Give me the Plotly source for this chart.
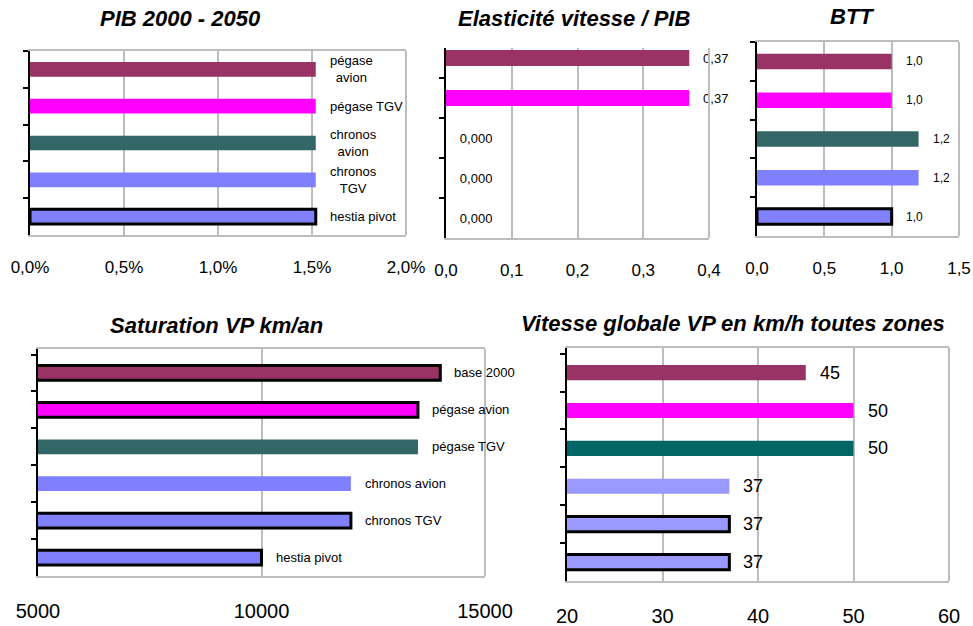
import plotly.graph_objects as go

W, H = 973, 626
FONT = "Liberation Sans, Arial, sans-serif"
GRID = "#bdbdbd"
PLUM = "#993366"
PINK = "#ff00ff"
SLATE = "#336666"
TEAL = "#006666"
LAV = "#8080ff"
LAV2 = "#9999ff"
NBSP = "\u00a0"

# --- data ---------------------------------------------------------------
SCEN5 = ["pégase avion", "pégase TGV", "chronos avion", "chronos TGV", "hestia pivot"]
SCEN5_LABELS = ["pégase<br>avion", "pégase TGV", "chronos<br>avion", "chronos<br>TGV", "hestia pivot"]
PIB = [0.0152, 0.0152, 0.0152, 0.0152, 0.0152]
ELASTICITE = [0.370, 0.370, 0.0, 0.0, 0.0]
BTT = [1.0, 1.0, 1.2, 1.2, 1.0]

SCEN6 = ["base 2000", "pégase avion", "pégase TGV", "chronos avion", "chronos TGV", "hestia pivot"]
SATURATION = [14000, 13500, 13500, 12000, 12000, 10000]
VITESSE = [45, 50, 50, 37, 37, 37]

COLORS5 = [PLUM, PINK, SLATE, LAV, LAV]
BORDER5 = [0, 0, 0, 0, 3]
COLORS_SAT = [PLUM, PINK, SLATE, LAV, LAV, LAV]
BORDER_SAT = [3, 3, 0, 0, 3, 3]
COLORS_VIT = [PLUM, PINK, TEAL, LAV2, LAV2, LAV2]
BORDER_VIT = [0, 0, 0, 0, 3, 3]


def px_x(v):
    return v / W


def px_y(v):
    return 1 - v / H


fig = go.Figure()
annotations = []
shapes = []


def panel(i, cats, vals, colors, borders, x_px, y_px, xrange, yrange, dtick,
          tickformat, tick_size, standoff, labels, label_size, title, title_xy,
          mirror=True, labels_as_text=False):
    xa = "x" if i == 1 else f"x{i}"
    ya = "y" if i == 1 else f"y{i}"
    bar = go.Bar(
        x=vals,
        y=cats,
        orientation="h",
        width=0.4,
        marker=dict(color=colors, line=dict(color="black", width=borders)),
        xaxis=xa,
        yaxis=ya,
        showlegend=False,
    )
    if labels_as_text:
        # bar text sits under shapes, so it can be cut like in the original
        bar.update(
            text=[NBSP * 3 + t for t in labels],
            textposition="outside",
            cliponaxis=False,
            constraintext="none",
            textfont=dict(size=label_size, color="black", family=FONT),
        )
    fig.add_trace(bar)
    key = "" if i == 1 else str(i)
    fig.layout["xaxis" + key] = dict(
        domain=[px_x(x_px[0]), px_x(x_px[1])],
        anchor=ya,
        range=xrange,
        dtick=dtick,
        tick0=xrange[0],
        tickformat=tickformat,
        showgrid=True,
        gridcolor=GRID,
        gridwidth=2,
        showline=True,
        linecolor=GRID,
        linewidth=2,
        mirror=mirror,
        ticks="",
        ticklabelstandoff=standoff,
        tickfont=dict(size=tick_size, color="black", family=FONT),
        zeroline=False,
        automargin=False,
        fixedrange=True,
    )
    fig.layout["yaxis" + key] = dict(
        domain=[px_y(y_px[1]), px_y(y_px[0])],
        anchor=xa,
        type="category",
        categoryarray=cats,
        range=yrange,
        showticklabels=False,
        showgrid=False,
        showline=True,
        linecolor="black",
        linewidth=2,
        ticks="outside",
        tickson="boundaries",
        ticklen=5,
        tickwidth=2,
        tickcolor="black",
        zeroline=False,
        automargin=False,
        fixedrange=True,
    )
    # right-hand frame of the plot area
    shapes.append(
        dict(type="line", xref=f"{xa} domain", yref=f"{ya} domain",
             x0=1, x1=1, y0=0, y1=1, line=dict(color=GRID, width=2))
    )
    if not labels_as_text:
        for c, v, t in zip(cats, vals, labels):
            annotations.append(
                dict(
                    x=v, y=c, xref=xa, yref=ya, text=t, showarrow=False,
                    xanchor="left", xshift=12, align="center",
                    font=dict(size=label_size, color="black", family=FONT),
                )
            )
    annotations.append(
        dict(
            x=px_x(title_xy[0]), y=px_y(title_xy[1]), xref="paper", yref="paper",
            text=f"<b><i>{title}</i></b>", showarrow=False,
            xanchor="center", yanchor="middle",
            font=dict(size=22, color="black", family=FONT),
        )
    )


panel(1, SCEN5, PIB, COLORS5, BORDER5, (30, 406), (51, 235), [0, 0.02], [4.5, -0.5],
      0.005, ".1%", 17, 16, SCEN5_LABELS, 13, "PIB 2000 - 2050", (180, 18))

panel(2, SCEN5, ELASTICITE, COLORS5, [0] * 5, (446, 709), (48, 238), [0, 0.4],
      [4.5, -0.25], 0.1, ".1f", 17, 16,
      [f"{v:.3f}".replace(".", ",") for v in ELASTICITE], 13,
      "Elasticité vitesse / PIB", (574, 18), mirror=False, labels_as_text=True)

panel(3, SCEN5, BTT, COLORS5, BORDER5, (757, 959), (42, 236), [0, 1.5], [4.5, -0.5],
      0.5, ".1f", 17, 16, [f"{v:.1f}".replace(".", ",") for v in BTT], 12,
      "BTT", (852, 16))

panel(4, SCEN6, SATURATION, COLORS_SAT, BORDER_SAT, (38, 485), (349, 576),
      [5000, 15000], [5.5, -0.65], 5000, "d", 20, 16, SCEN6, 13,
      "Saturation VP km/an", (216, 325))

panel(5, SCEN6, VITESSE, COLORS_VIT, BORDER_VIT, (567, 949), (348, 581),
      [20, 60], [5.5, -0.65], 10, "d", 20, 16, [str(v) for v in VITESSE], 18,
      "Vitesse globale VP en km/h toutes zones", (733, 323))

# the elasticity value labels are cut off where the BTT panel begins
shapes.append(
    dict(type="rect", xref="paper", yref="paper", layer="above",
         x0=px_x(729), x1=px_x(750), y0=px_y(110), y1=px_y(45),
         fillcolor="white", line=dict(width=0))
)

fig.update_layout(
    width=W,
    height=H,
    margin=dict(l=0, r=0, t=0, b=0),
    paper_bgcolor="white",
    plot_bgcolor="white",
    separators=",.",
    font=dict(family=FONT, color="black"),
    annotations=annotations,
    shapes=shapes,
)

# drop the default page margin so the figure fills the window exactly
fig.write_html(
    "out.html",
    config={"displayModeBar": False},
    post_script="document.body.style.margin = '0';",
)
